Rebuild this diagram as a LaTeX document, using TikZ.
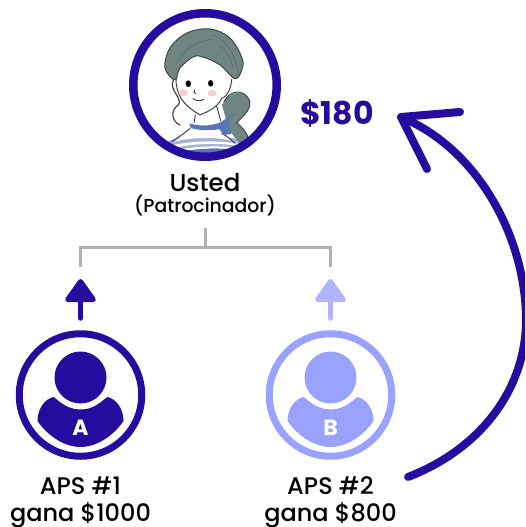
\documentclass[tikz,border=0pt]{standalone}
\usepackage{fontspec}
\setmainfont{Poppins}
\newfontfamily\pmed{Poppins Medium}
\usetikzlibrary{arrows.meta}
\definecolor{deep}{HTML}{250C9F}
\definecolor{soft}{HTML}{9AA2FF}
\definecolor{softer}{HTML}{B0B3FF}
\definecolor{hair}{HTML}{6F8582}
\definecolor{scarf}{HTML}{5A74B8}
\definecolor{cheek}{HTML}{F8CFCF}
\definecolor{ink}{HTML}{3F4646}
\tikzset{
  lbl/.style={inner sep=0pt,font=\pmed\fontsize{24}{28}\selectfont,text=black,align=center},
  ring/.style={circle,draw=#1,line width=7pt,minimum size=122.5pt,inner sep=0pt},
  headdot/.style={circle,fill=#1,minimum size=52pt,inner sep=0pt},
  tree/.style={draw=black!30,line width=3pt},
  uparrow/.style={draw=#1,line width=5pt,line cap=round,-{Triangle[length=25pt,width=34pt,round,fill=#1]}},
  bigline/.style={draw=deep,line width=8pt,line cap=round,line join=round},
  face/.style={draw=ink,line width=1pt,line join=round,line cap=round},
  strand/.style={draw=ink!80,line width=.7pt,line cap=round},
}
\newcommand{\bodyshape}[2]{% centre x, colour
  \fill[#2] (#1-27,397) .. controls (#1-21,401) and (#1-14,409.5) .. (#1,409.5)
     .. controls (#1+14,409.5) and (#1+21,401) .. (#1+27,397)
     .. controls (#1+36,399) and (#1+43,409) .. (#1+43,421)
     .. controls (#1+32,437) and (#1+15,447) .. (#1,447)
     .. controls (#1-15,447) and (#1-32,437) .. (#1-43,421)
     .. controls (#1-43,409) and (#1-36,399) .. (#1-27,397) -- cycle;
}
\begin{document}
\begin{tikzpicture}[x=1pt,y=-1pt]
\useasboundingbox (0,0) rectangle (525,527);
\clip (0,0) rectangle (525,527);
% avatar artwork, in 3x crop coordinates
\begin{scope}
\clip (205,85) circle (70);
\begin{scope}[shift={(120,0)},x=.3333pt,y=-.3333pt]
  % shirt
  \fill[scarf!55] (140,425) -- (215,400) -- (345,415) -- (370,435) -- (370,480) -- (140,480) -- cycle;
  \fill[white] (215,385) -- (305,400) -- (335,422) .. controls (280,410) and (210,412) .. (165,425) -- cycle;
  \fill[white] (150,437) .. controls (220,422) and (290,420) .. (360,432) -- (360,438) .. controls (290,428) and (220,430) .. (155,445) -- cycle;
  \fill[scarf] (165,458) .. controls (230,444) and (290,442) .. (360,450) -- (360,480) -- (165,480) -- cycle;
  \fill[white] (160,452) .. controls (230,438) and (290,436) .. (360,444) -- (360,450) .. controls (290,442) and (230,444) .. (165,458) -- cycle;
  % ponytail
  \fill[hair] (306,315) .. controls (325,275) and (370,265) .. (388,300)
     .. controls (395,325) and (375,345) .. (350,368)
     .. controls (368,385) and (385,405) .. (385,418) -- (362,432)
     .. controls (340,410) and (322,385) .. (316,350) -- cycle;
  \draw[face] (312,305) .. controls (330,270) and (370,265) .. (388,300) .. controls (395,325) and (375,345) .. (350,368) .. controls (370,385) and (385,405) .. (385,418);
  % neck
  \draw[face] (226,345) -- (222,368);
  \draw[face] (290,318) -- (302,362);
  \draw[face] (210,385) .. controls (200,395) and (185,405) .. (155,425);
  \draw[face] (305,400) .. controls (315,405) and (330,415) .. (345,430);
  % scarf
  \fill[scarf] (208,370) .. controls (240,380) and (270,378) .. (300,368) -- (342,340) -- (325,368) -- (335,402) -- (312,405) -- (298,388) .. controls (270,392) and (240,392) .. (212,384) -- cycle;
  % face
  \fill[white] (165,240) -- (180,204) -- (219,171) -- (249,171) -- (300,195) -- (345,236) -- (320,285) -- (300,310) -- (240,345) -- (195,320) -- (175,280) -- cycle;
  \draw[face] (168,235) .. controls (168,275) and (180,310) .. (240,345) .. controls (265,335) and (295,320) .. (305,295) .. controls (325,290) and (335,255) .. (335,238);
  \draw[face,line width=1.2pt] (160,240) .. controls (145,270) and (190,295) .. (175,315) .. controls (150,330) and (155,365) .. (180,375);
  % hair
  \filldraw[fill=hair,face] plot[smooth cycle,tension=.6] coordinates {(165,240) (135,204) (150,144) (201,99) (270,87) (330,114) (366,174) (366,208) (345,236) (300,195) (249,171) (219,171) (180,204)};
  \draw[strand] (170,190) .. controls (195,145) and (235,122) .. (275,118);
  \draw[strand] (285,105) .. controls (325,130) and (350,170) .. (355,225);
  \draw[strand] (300,135) .. controls (325,160) and (335,180) .. (338,205);
  \fill[cheek] (190,278) ellipse (14 and 10);
  \fill[cheek] (277,280) ellipse (14 and 10);
  \fill[black] (205,251) ellipse (8 and 10);
  \fill[black] (272,250) ellipse (8 and 10);
  \draw[face] (224,270) -- (222,278) -- (228,280);
  \draw[face] (219,296) .. controls (230,304) and (240,304) .. (252,298);
\end{scope}
\end{scope}
\node[circle,draw=deep,line width=8.5pt,minimum size=143.5pt,inner sep=0pt] (sponsor) at (205,85) {};
\node[lbl,font=\pmed\fontsize{24.5}{28}\selectfont,anchor=base] (usted) at (205,191) {Usted};
\node[lbl,font=\pmed\fontsize{18.8}{22}\selectfont,anchor=base] (patro) at (205,212) {(Patrocinador)};
\node[inner sep=0pt,text=deep,font=\bfseries\fontsize{31.5}{36}\selectfont,anchor=base] (amount) at (337,124.5) {\$180};
% tree
\coordinate (stem) at (205,228);
\coordinate (joint) at (205,247.5);
\coordinate (lefttop) at (80.5,247.5);
\coordinate (leftend) at (80.5,267);
\coordinate (righttop) at (330.5,247.5);
\coordinate (rightend) at (330.5,267);
\draw[tree] (stem) -- (joint);
\draw[tree] (leftend) -- (lefttop) -- (righttop) -- (rightend);
% persons
\node[ring=deep] (a) at (80.5,395) {};
\node[ring=soft] (b) at (330.5,395) {};
\node[headdot=deep] (aH) at (80.5,377.5) {};
\node[headdot=soft] (bH) at (330.5,377.5) {};
\bodyshape{80.5}{deep}
\bodyshape{330.5}{soft}
\node[inner sep=0pt,text=white,font=\bfseries\fontsize{22}{26}\selectfont] (aL) at (80.5,428) {A};
\node[inner sep=0pt,text=white,font=\bfseries\fontsize{22}{26}\selectfont] (bL) at (330.5,428) {B};
% up arrows
\coordinate (atip) at (80.5,279);
\coordinate (btip) at (330.5,279);
\draw[uparrow=deep] ([yshift=12pt]a.north) -- (atip);
\draw[uparrow=softer] ([yshift=12pt]b.north) -- (btip);
% labels
\node[lbl,anchor=base] (aps1) at (80.5,494) {APS \#1};
\node[lbl,anchor=base] (gana1) at (80.5,521) {gana \$1000};
\node[lbl,anchor=base] (aps2) at (330.5,494) {APS \#2};
\node[lbl,anchor=base] (gana2) at (330.5,521) {gana \$800};
% big return arrow
\coordinate (bstart) at (408,477);
\coordinate (bmid) at (526,320);
\coordinate (btipbig) at (401,117);
\coordinate (barm1) at (460,112);
\coordinate (barm2) at (427,169);
\draw[bigline] (bstart) .. controls (485,447) and (526,385) .. (bmid)
   .. controls (526,240) and (480,150) .. (btipbig);
\draw[bigline] (barm1) -- (btipbig) -- (barm2);
\end{tikzpicture}
\end{document}
